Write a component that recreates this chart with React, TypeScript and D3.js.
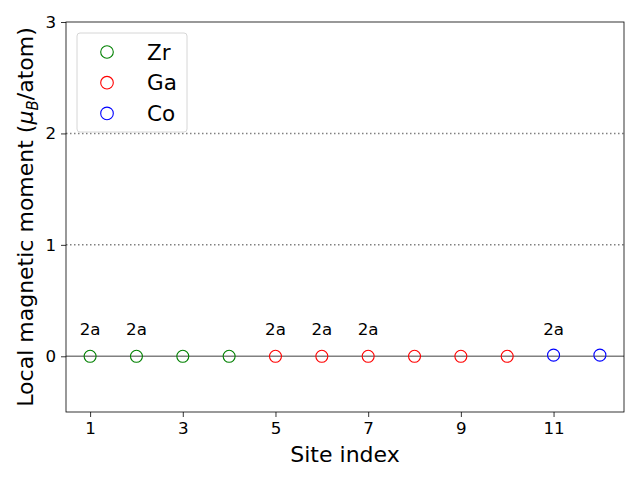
import { useEffect, useRef } from 'react';
import * as d3 from 'd3';

const sites = [1, 2, 3, 4, 5, 6, 7, 8, 9, 10, 11, 12];
const moments = [0, 0, 0, 0, 0, 0, 0, 0, 0, 0, 0.01, 0.01];
const elements = ['Zr', 'Zr', 'Zr', 'Zr', 'Ga', 'Ga', 'Ga', 'Ga', 'Ga', 'Ga', 'Co', 'Co'];
const wyckoff = ['2a', '2a', '', '', '2a', '2a', '2a', '', '', '', '2a', ''];
const legendItems = [
  { label: 'Zr', color: 'green' },
  { label: 'Ga', color: 'red' },
  { label: 'Co', color: 'blue' },
];
const xTicks = [1, 3, 5, 7, 9, 11];
const yTicks = [0, 1, 2, 3];
const refLines = [1, 2];

const colorOf: Record<string, string> = { Zr: 'green', Ga: 'red', Co: 'blue' };

export default function App() {
  const svgRef = useRef<SVGSVGElement>(null);

  useEffect(() => {
    if (!svgRef.current) return;
    const svg = d3.select(svgRef.current);
    svg.selectAll('*').remove();

    const width = 640;
    const height = 480;
    const margin = { top: 22, right: 16, bottom: 68, left: 66 };
    const w = width - margin.left - margin.right;
    const h = height - margin.top - margin.bottom;
    const font = 'DejaVu Sans, sans-serif';

    svg.append('rect').attr('width', width).attr('height', height).attr('fill', '#fff');

    const g = svg.append('g').attr('transform', `translate(${margin.left},${margin.top})`);

    const x = d3.scaleLinear().domain([0.48, 12.52]).range([0, w]);
    const y = d3.scaleLinear().domain([-0.5, 3]).range([h, 0]);

    // dotted reference lines
    refLines.forEach((v) => {
      g.append('line')
        .attr('x1', 0).attr('x2', w)
        .attr('y1', y(v)).attr('y2', y(v))
        .attr('stroke', '#808080')
        .attr('stroke-width', 1.5)
        .attr('stroke-dasharray', '1.5,2.5');
    });

    // zero line
    g.append('line')
      .attr('x1', 0).attr('x2', w)
      .attr('y1', y(0)).attr('y2', y(0))
      .attr('stroke', '#808080')
      .attr('stroke-width', 1.5);

    // points
    g.selectAll('.pt')
      .data(sites)
      .enter()
      .append('circle')
      .attr('class', 'pt')
      .attr('cx', (d) => x(d))
      .attr('cy', (_d, i) => y(moments[i]))
      .attr('r', 6)
      .attr('fill', 'none')
      .attr('stroke', (_d, i) => colorOf[elements[i]])
      .attr('stroke-width', 1.1);

    // Wyckoff labels
    g.selectAll('.wy')
      .data(sites.filter((_d, i) => wyckoff[i] !== ''))
      .enter()
      .append('text')
      .attr('x', (d) => x(d))
      .attr('y', y(0.25))
      .attr('dy', '0.4em')
      .attr('text-anchor', 'middle')
      .style('font-family', font)
      .style('font-size', '16.7px')
      .text((d) => wyckoff[sites.indexOf(d)]);

    // axes
    const xAxis = g.append('g')
      .attr('transform', `translate(0,${h})`)
      .call(d3.axisBottom(x).tickValues(xTicks).tickSize(5).tickPadding(5).tickFormat(d3.format('d')));
    const yAxis = g.append('g')
      .call(d3.axisLeft(y).tickValues(yTicks).tickSize(5).tickPadding(5).tickFormat(d3.format('d')));
    [xAxis, yAxis].forEach((a) => {
      a.select('.domain').remove();
      a.selectAll('text').style('font-family', font).style('font-size', '16.7px').attr('fill', '#000');
      a.selectAll('line').attr('stroke', '#000').attr('stroke-width', 0.8);
    });

    // frame
    g.append('rect')
      .attr('width', w).attr('height', h)
      .attr('fill', 'none')
      .attr('stroke', '#000')
      .attr('stroke-width', 0.8);

    // legend
    const lg = g.append('g').attr('transform', 'translate(11,11)');
    lg.append('rect')
      .attr('width', 110).attr('height', 99)
      .attr('rx', 3)
      .attr('fill', '#fff')
      .attr('fill-opacity', 0.8)
      .attr('stroke', '#d6d6d6')
      .attr('stroke-width', 1);
    legendItems.forEach((item, i) => {
      const row = lg.append('g').attr('transform', `translate(0,${19 + i * 30.7})`);
      row.append('circle')
        .attr('cx', 30).attr('cy', 0).attr('r', 6.3)
        .attr('fill', 'none')
        .attr('stroke', item.color)
        .attr('stroke-width', 1.1);
      row.append('text')
        .attr('x', 70).attr('y', 0).attr('dy', '0.35em')
        .style('font-family', font)
        .style('font-size', '21.5px')
        .text(item.label);
    });

    // axis labels
    svg.append('text')
      .attr('x', margin.left + w / 2)
      .attr('y', 462)
      .attr('text-anchor', 'middle')
      .style('font-family', font)
      .style('font-size', '22px')
      .text('Site index');

    const yl = svg.append('text')
      .attr('transform', `translate(33,${margin.top + h / 2}) rotate(-90)`)
      .attr('text-anchor', 'middle')
      .style('font-family', font)
      .style('font-size', '22px');
    yl.append('tspan').text('Local magnetic moment (');
    yl.append('tspan').style('font-style', 'italic').text('μ');
    yl.append('tspan').style('font-style', 'italic').style('font-size', '15px').attr('dy', 5).text('B');
    yl.append('tspan').attr('dy', -5).text('/atom)');
  }, []);

  return (
    <svg ref={svgRef} width={640} height={480} style={{ position: 'absolute', left: 0, top: 0 }}></svg>
  );
}
